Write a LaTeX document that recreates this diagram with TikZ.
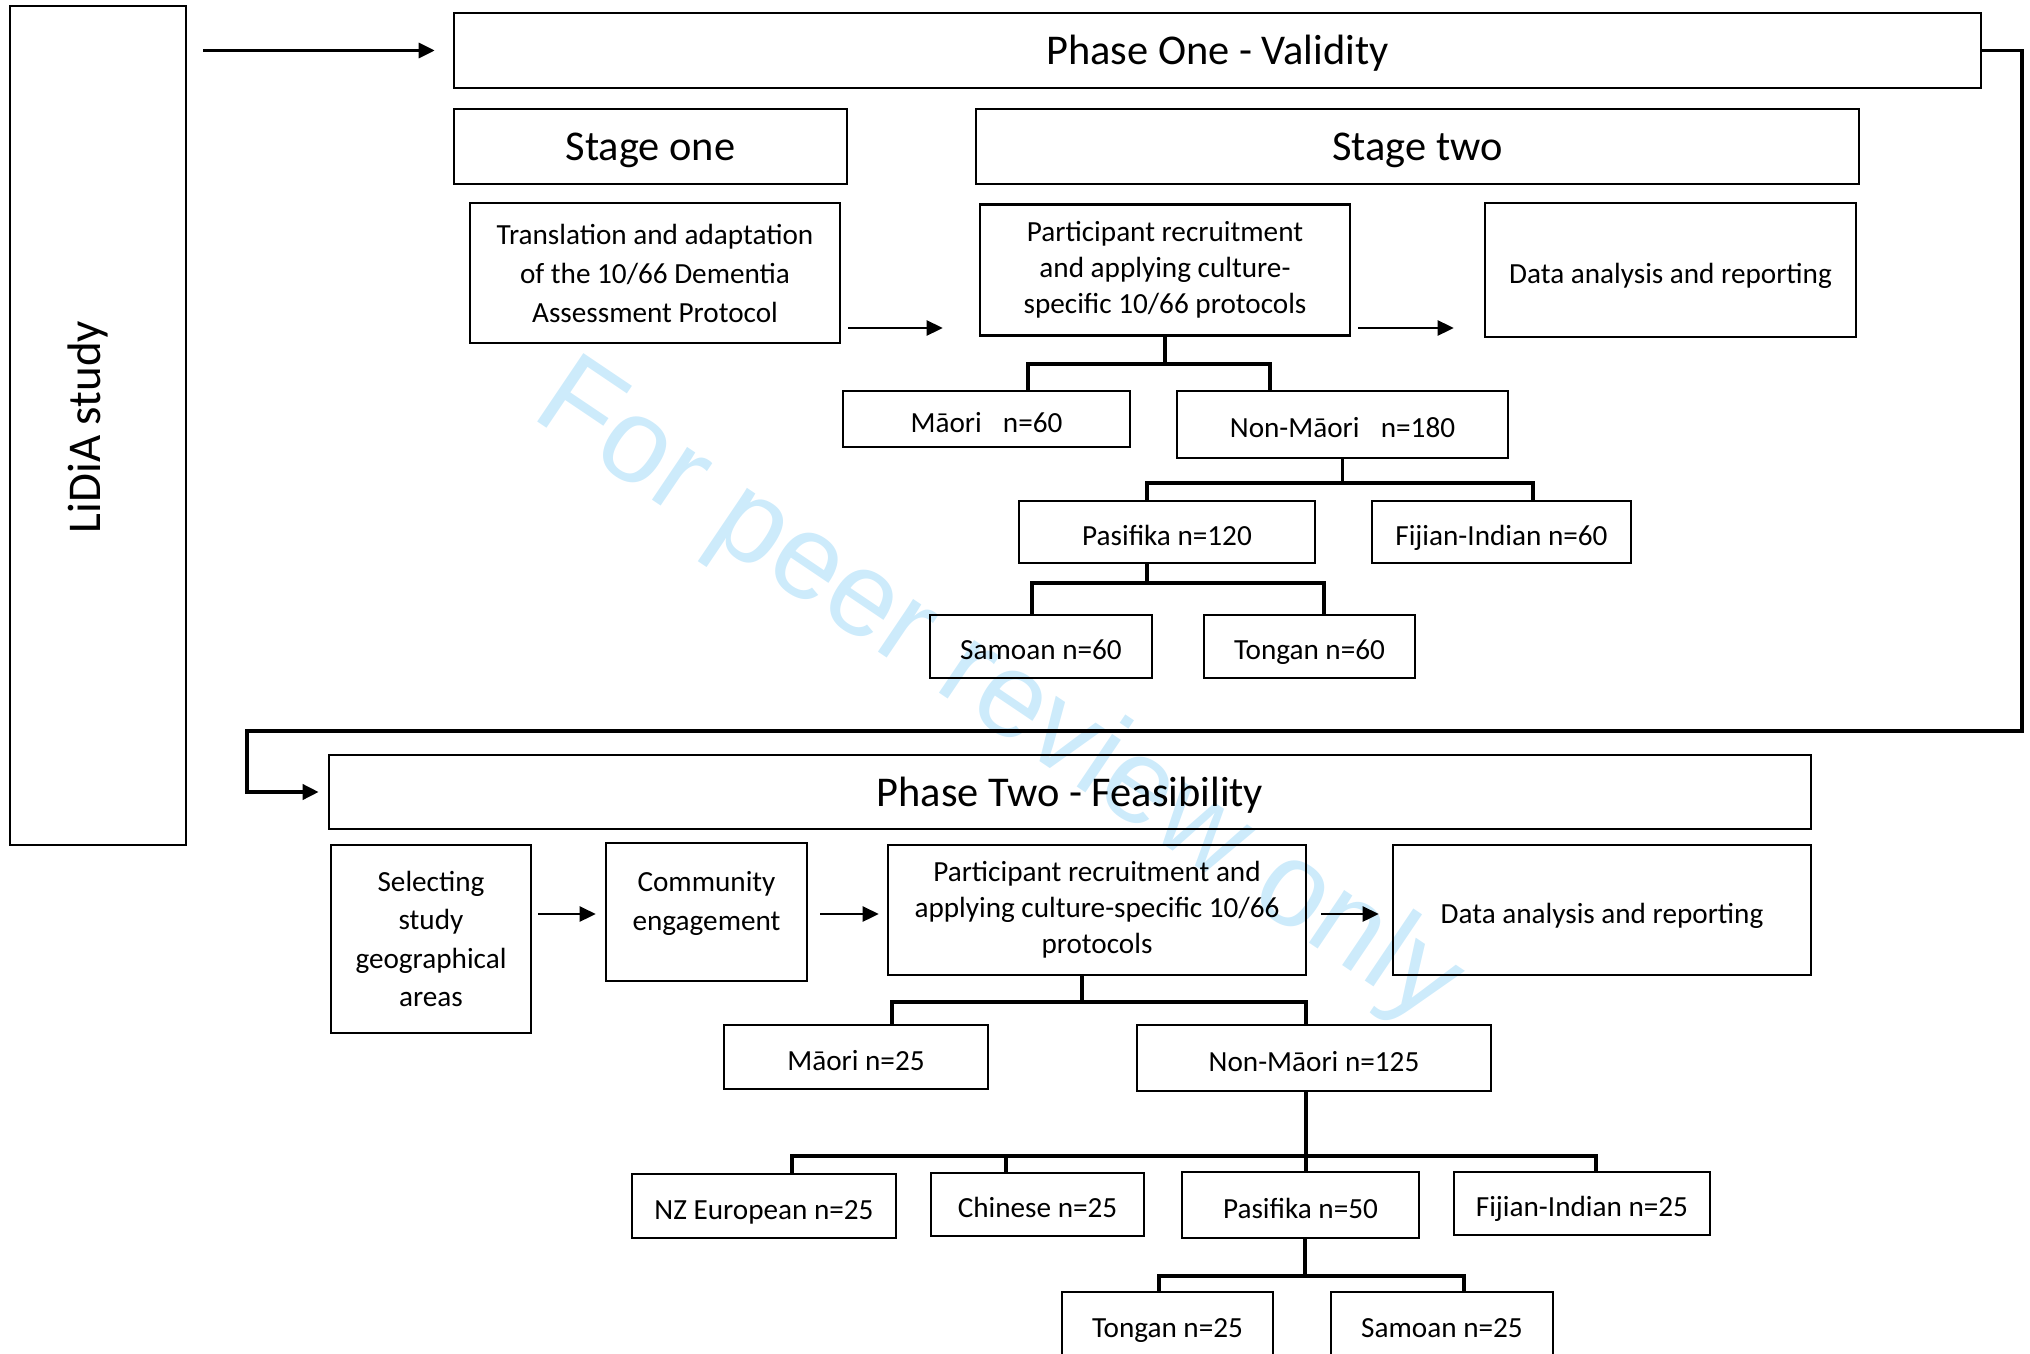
\documentclass[tikz,border=0pt]{standalone}
\usepackage{fontspec}
\setmainfont{Carlito}
\newfontfamily\wmfont{Liberation Sans}
\usetikzlibrary{arrows.meta}

\definecolor{wmblue}{RGB}{205,235,251}

\begin{document}
\begin{tikzpicture}[x=0.5pt,y=0.5pt,yscale=-1,
	box/.style={draw, line width=1.3pt, inner sep=0pt, align=center, font=\fontsize{14.6}{19}\selectfont},
	oneline/.style={box, text height=13pt, text depth=0pt},
	headbox/.style={box, text height=14.5pt, text depth=0pt, font=\fontsize{21.2}{25}\selectfont},
	link/.style={line width=1.7pt},
	arr/.style={line width=1.6pt, -{Triangle[length=8pt,width=7.5pt]}}]
	\useasboundingbox (0,0) rectangle (2030,1354);
	% watermark
	\node [rotate=-34, text=wmblue, font=\wmfont\fontsize{60}{62}\selectfont] (wmark) at (997,695) {For peer review only};
	% outer study box
	\node [box, minimum width=88pt, minimum height=419.5pt] (lidia) at (98,425.5) {};
	\node [font=\fontsize{23.5}{26}\selectfont] (lidiatext) at (88,427) {\rotatebox{90}{LiDiA study}};
	% phase one
	\node [headbox, minimum width=763.5pt, minimum height=37.5pt] (phaseone) at (1217.5,50.5) {Phase One - Validity};
	\node [headbox, minimum width=196.5pt, minimum height=37.5pt] (stageone) at (650.5,146.5) {Stage one};
	\node [headbox, minimum width=441.5pt, minimum height=37.5pt] (stagetwo) at (1417.5,146.5) {Stage two};
	\node [box, minimum width=185pt, minimum height=70pt, font=\fontsize{14.6}{19.5}\selectfont] (transl) at (655,273) {Translation and adaptation\\of the 10/66 Dementia\\Assessment Protocol};
	\node [box, minimum width=185pt, minimum height=65.5pt, font=\fontsize{14.6}{18}\selectfont] (recruit1) at (1165,270) {Participant recruitment\\and applying culture-\\specific 10/66 protocols};
	\node [oneline, minimum width=185.5pt, minimum height=67pt] (data1) at (1670.5,270) {Data analysis and reporting};
	\node [oneline, minimum width=143.5pt, minimum height=28pt] (maori1) at (986.5,419) {Māori\hspace{0.5em} n=60};
	\node [oneline, minimum width=165.5pt, minimum height=33.5pt] (nonmaori1) at (1342.5,424.5) {Non-Māori\hspace{0.5em} n=180};
	\node [oneline, minimum width=148pt, minimum height=31pt] (pasifika1) at (1167,532) {Pasifika n=120};
	\node [oneline, minimum width=129.5pt, minimum height=31pt] (fijian1) at (1501.5,532) {Fijian-Indian n=60};
	\node [oneline, minimum width=111pt, minimum height=31.5pt] (samoan1) at (1041,646.5) {Samoan n=60};
	\node [oneline, minimum width=105.5pt, minimum height=31.5pt] (tongan1) at (1309.5,646.5) {Tongan n=60};
	% phase two
	\node [headbox, minimum width=741pt, minimum height=37pt] (phasetwo) at (1070,792) {Phase Two - Feasibility};
	\node [box, minimum width=100pt, minimum height=94pt, font=\fontsize{14.6}{19.25}\selectfont] (select) at (431,939) {Selecting\\study\\geographical\\areas};
	\node [box, minimum width=100.5pt, minimum height=69pt, font=\fontsize{14.6}{19.5}\selectfont] (community) at (706.5,912) {Community\\engagement\\[-8.5pt]};
	\node [box, minimum width=209pt, minimum height=65pt, font=\fontsize{14.6}{18}\selectfont] (recruit2) at (1097,910) {Participant recruitment and\\applying culture-specific 10/66\\protocols};
	\node [oneline, minimum width=209pt, minimum height=65pt] (data2) at (1602,910) {Data analysis and reporting};
	\node [oneline, minimum width=132pt, minimum height=32pt] (maori2) at (856,1057) {Māori n=25};
	\node [oneline, minimum width=177pt, minimum height=33pt] (nonmaori2) at (1314,1058) {Non-Māori n=125};
	\node [oneline, minimum width=132pt, minimum height=32pt] (nzeu) at (764,1206) {NZ European n=25};
	\node [oneline, minimum width=106.5pt, minimum height=31.5pt] (chinese) at (1037.5,1204.5) {Chinese n=25};
	\node [oneline, minimum width=118.5pt, minimum height=33pt] (pasifika2) at (1300.5,1205) {Pasifika n=50};
	\node [oneline, minimum width=128pt, minimum height=31.5pt] (fijian2) at (1582,1203.5) {Fijian-Indian n=25};
	\node [oneline, minimum width=105.5pt, minimum height=32pt] (tongan2) at (1167.5,1324) {Tongan n=25};
	\node [oneline, minimum width=111pt, minimum height=32pt] (samoan2) at (1442,1324) {Samoan n=25};

	% bar ends of the trees
	\coordinate (arrA) at (0,328);
	\coordinate (arrB) at (0,914);
	\coordinate (tAl) at (1028,364);
	\coordinate (tAr) at (1270,364);
	\coordinate (tBl) at (1147,483);
	\coordinate (tBr) at (1533,483);
	\coordinate (tCm) at (1147,583);
	\coordinate (tCl) at (1032,583);
	\coordinate (tCr) at (1324,583);
	\coordinate (tDm) at (1082,1002);
	\coordinate (tDl) at (892,1002);
	\coordinate (tDr) at (1306,1002);
	\coordinate (tEl) at (792,1156);
	\coordinate (tEa) at (1006,1156);
	\coordinate (tEr) at (1596,1156);
	\coordinate (tFm) at (1305,1276);
	\coordinate (tFl) at (1159,1276);
	\coordinate (tFr) at (1464,1276);
	\coordinate (loopR) at (2022,731);
	\coordinate (loopL) at (247,731);

	% arrows
	\draw [arr, shorten <=8pt, shorten >=9pt] (lidia.east |- phaseone.west) -- (phaseone.west);
	\draw [arr, line width=1.3pt, shorten <=3.5pt, shorten >=18pt] (transl.east |- arrA) -- (recruit1.west |- arrA);
	\draw [arr, line width=1.3pt, shorten <=3.5pt, shorten >=15pt] (recruit1.east |- arrA) -- (data1.west |- arrA);
	\draw [arr, line width=1.8pt, shorten >=4.5pt] (phaseone.east) -| (loopR) -- (loopL) |- (phasetwo.west);
	\draw [arr, line width=1.3pt, shorten <=3pt, shorten >=4.5pt] (select.east |- arrB) -- (community.west |- arrB);
	\draw [arr, line width=1.3pt, shorten <=6pt, shorten >=4pt] (community.east |- arrB) -- (recruit2.west |- arrB);
	\draw [arr, line width=1.3pt, shorten <=7pt, shorten >=6.5pt] (recruit2.east |- arrB) -- (data2.west |- arrB);

	% tree lines
	\draw [link] (recruit1.south) -- (recruit1.south |- tAl);
	\draw [link] (maori1.north -| tAl) -- (tAl) -- (tAr) -- (nonmaori1.north -| tAr);
	\draw [link] (nonmaori1.south) -- (nonmaori1.south |- tBl);
	\draw [link] (pasifika1.north -| tBl) -- (tBl) -- (tBr) -- (fijian1.north -| tBr);
	\draw [link] (pasifika1.south -| tCm) -- (tCm);
	\draw [link] (samoan1.north -| tCl) -- (tCl) -- (tCr) -- (tongan1.north -| tCr);
	\draw [link] (recruit2.south -| tDm) -- (tDm);
	\draw [link] (maori2.north -| tDl) -- (tDl) -- (tDr) -- (nonmaori2.north -| tDr);
	\draw [link] (nonmaori2.south -| tDr) -- (pasifika2.north -| tDr);
	\draw [link] (nzeu.north -| tEl) -- (tEl) -- (tEr) -- (fijian2.north -| tEr);
	\draw [link] (tEa) -- (chinese.north -| tEa);
	\draw [link] (pasifika2.south -| tFm) -- (tFm);
	\draw [link] (tongan2.north -| tFl) -- (tFl) -- (tFr) -- (samoan2.north -| tFr);
\end{tikzpicture}
\end{document}
